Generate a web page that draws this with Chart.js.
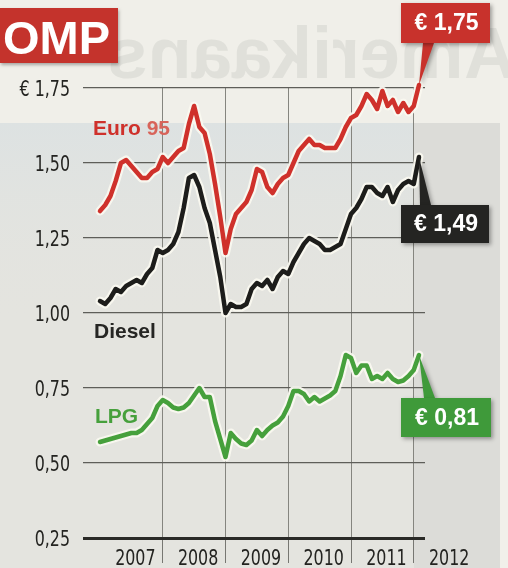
<!DOCTYPE html>
<html>
<head>
<meta charset="utf-8">
<script src="https://cdn.jsdelivr.net/npm/chart.js@4/dist/chart.umd.min.js"></script>
<style>
    html, body { margin: 0; padding: 0; background: #e9e9e4; overflow: hidden; }
    #wrap { position: relative; width: 508px; height: 568px; }
</style>
</head>
<body>
<div id="wrap"><canvas id="fuelChart" width="508" height="568"></canvas></div>
<script>
// Monthly prices (euro per litre), Jan 2007 - Feb 2012
const euro95 = [
    1.34, 1.36, 1.39, 1.44, 1.50, 1.51, 1.49, 1.47, 1.45, 1.45, 1.47, 1.48,
    1.52, 1.50, 1.52, 1.54, 1.55, 1.63, 1.69, 1.62, 1.60, 1.53, 1.43, 1.32,
    1.20, 1.28, 1.33, 1.35, 1.37, 1.41, 1.48, 1.47, 1.42, 1.40, 1.43, 1.45,
    1.46, 1.50, 1.54, 1.56, 1.58, 1.56, 1.56, 1.55, 1.55, 1.55, 1.58, 1.62,
    1.65, 1.66, 1.69, 1.73, 1.71, 1.68, 1.74, 1.69, 1.71, 1.67, 1.70, 1.67,
    1.69, 1.76
];
const diesel = [
    1.04, 1.03, 1.05, 1.08, 1.07, 1.09, 1.10, 1.11, 1.10, 1.13, 1.15, 1.21,
    1.20, 1.21, 1.23, 1.27, 1.35, 1.45, 1.46, 1.42, 1.35, 1.30, 1.21, 1.12,
    1.00, 1.03, 1.02, 1.02, 1.03, 1.08, 1.10, 1.09, 1.11, 1.08, 1.12, 1.14,
    1.13, 1.17, 1.20, 1.23, 1.25, 1.24, 1.23, 1.21, 1.21, 1.22, 1.23, 1.28,
    1.33, 1.35, 1.38, 1.42, 1.42, 1.40, 1.39, 1.42, 1.37, 1.41, 1.43, 1.44,
    1.43, 1.52
];
const lpg = [
    0.570, 0.575, 0.580, 0.585, 0.590, 0.595, 0.600, 0.600, 0.610, 0.630, 0.650, 0.690,
    0.710, 0.700, 0.685, 0.680, 0.685, 0.700, 0.725, 0.750, 0.720, 0.720, 0.640, 0.580,
    0.520, 0.600, 0.580, 0.565, 0.560, 0.575, 0.610, 0.590, 0.610, 0.625, 0.635, 0.655,
    0.690, 0.740, 0.740, 0.730, 0.705, 0.720, 0.705, 0.715, 0.725, 0.740, 0.790, 0.860,
    0.850, 0.800, 0.825, 0.825, 0.780, 0.790, 0.780, 0.800, 0.780, 0.770, 0.775, 0.790,
    0.810, 0.860
];

const seriesNames = ['Euro 95', 'Diesel', 'LPG'];
const endLabels = ['€ 1,75', '€ 1,49', '€ 0,81'];
const years = ['2007', '2008', '2009', '2010', '2011', '2012'];
const yTickValues = [0.25, 0.50, 0.75, 1.00, 1.25, 1.50, 1.75];
const yTickLabels = ['0,25', '0,50', '0,75', '1,00', '1,25', '1,50', '€ 1,75'];

const RED = '#cf312b';
const BLACK = '#1d1d1b';
const GREEN = '#46a03c';
const NARROW = "'DejaVu Sans Condensed', 'Liberation Sans Narrow', sans-serif";
const BOLD = "'Liberation Sans', Arial, sans-serif";
const SQUEEZE = 0.84; // the print face is narrower than anything installed

// x value = months since Jan 2007
const toPoints = arr => arr.map((v, i) => ({ x: i, y: v }));

function line(data, color, width, order) {
    return {
        data: toPoints(data),
        borderColor: color,
        borderWidth: width,
        pointRadius: 0,
        tension: 0,
        borderJoinStyle: 'round',
        borderCapStyle: 'round',
        clip: false,
        order: order
    };
}

const halo = 'rgba(250,248,240,0.92)';

// Paper background, header strip and the mirrored show-through headline
const paperPlugin = {
    id: 'paper',
    beforeDraw(chart) {
        const ctx = chart.ctx;
        ctx.save();
        ctx.fillStyle = '#e4e4df';
        ctx.fillRect(0, 0, 508, 568);
        ctx.fillStyle = '#f0efe9';
        ctx.fillRect(0, 0, 508, 123);
        const g = ctx.createLinearGradient(0, 123, 0, 330);
        g.addColorStop(0, '#dde2e2');
        g.addColorStop(1, 'rgba(228,228,223,0)');
        ctx.fillStyle = g;
        ctx.fillRect(0, 123, 420, 207);
        ctx.fillStyle = '#dcdcd8';
        ctx.fillRect(414, 123, 86, 445);
        ctx.fillStyle = '#f1f0ea';
        ctx.fillRect(500, 0, 8, 568);

        // mirrored headline bleeding through the paper
        ctx.save();
        ctx.translate(516, 0);
        ctx.scale(-1, 1);
        ctx.font = "bold 72px " + BOLD;
        ctx.fillStyle = 'rgba(150,155,148,0.17)';
        ctx.textBaseline = 'alphabetic';
        ctx.fillText('Amerikaans', 0, 78);
        ctx.restore();

        // header tab
        ctx.shadowColor = 'rgba(0,0,0,0.3)';
        ctx.shadowBlur = 3;
        ctx.shadowOffsetX = 1;
        ctx.shadowOffsetY = 2;
        ctx.fillStyle = '#c4332c';
        ctx.fillRect(0, 8, 118, 55);
        ctx.shadowColor = 'transparent';
        ctx.fillStyle = '#ffffff';
        ctx.font = "bold 47px " + BOLD;
        ctx.textAlign = 'right';
        ctx.fillText('OMP', 110, 54);
        ctx.restore();
    }
};

function squeezedText(ctx, text, x, y, align) {
    ctx.save();
    ctx.translate(x, y);
    ctx.scale(SQUEEZE, 1);
    ctx.textAlign = align;
    ctx.fillText(text, 0, 0);
    ctx.restore();
}

function callout(ctx, box, color, text, tip, fromTop) {
    ctx.save();
    ctx.shadowColor = 'rgba(0,0,0,0.35)';
    ctx.shadowBlur = 4;
    ctx.shadowOffsetX = 2;
    ctx.shadowOffsetY = 2;
    ctx.fillStyle = color;
    const baseY = fromTop ? box.y : box.y + box.h;
    ctx.beginPath();
    ctx.moveTo(box.px1, baseY);
    ctx.lineTo(box.px2, baseY);
    ctx.lineTo(tip.x, tip.y);
    ctx.closePath();
    ctx.fill();
    ctx.fillRect(box.x, box.y, box.w, box.h);
    ctx.shadowColor = 'transparent';
    ctx.fillStyle = '#ffffff';
    ctx.font = "bold 23px " + BOLD;
    ctx.textAlign = 'center';
    ctx.textBaseline = 'middle';
    ctx.fillText(text, box.x + box.w / 2 + 1, box.y + box.h / 2 + 1);
    ctx.restore();
}

const labelPlugin = {
    id: 'labels',
    afterDraw(chart) {
        const ctx = chart.ctx;
        const xs = chart.scales.x;
        const ys = chart.scales.y;
        ctx.save();

        ctx.font = "21px " + NARROW;
        ctx.fillStyle = '#232320';
        ctx.textBaseline = 'middle';
        // value labels on the left
        yTickValues.forEach((v, i) => {
            squeezedText(ctx, yTickLabels[i], 70, ys.getPixelForValue(v) + 3, 'right');
        });

        // year labels, centred between the year gridlines
        ctx.textBaseline = 'alphabetic';
        years.forEach((y, i) => {
            squeezedText(ctx, y, xs.getPixelForValue(i * 12 + 6) + 4, 565, 'center');
        });

        // series names
        ctx.textAlign = 'left';
        ctx.font = "bold 21px " + BOLD;
        ctx.fillStyle = RED;
        ctx.fillText('Euro ', 93, 135);
        const w = ctx.measureText('Euro ').width;
        ctx.fillStyle = '#d8645a';
        ctx.fillText(seriesNames[0].slice(5), 93 + w, 135);
        ctx.fillStyle = '#262624';
        ctx.fillText(seriesNames[1], 94, 338);
        ctx.fillStyle = GREEN;
        ctx.fillText(seriesNames[2], 95, 423);
        ctx.restore();

        // end-value callouts pointing at the last point of each series
        const tipOf = idx => {
            const pts = chart.getDatasetMeta(idx).data;
            const p = pts[pts.length - 1];
            return { x: p.x, y: p.y };
        };
        callout(ctx, { x: 401, y: 3, w: 89, h: 40, px1: 423, px2: 434 }, '#c8322c', endLabels[0], tipOf(3), false);
        callout(ctx, { x: 401, y: 205, w: 88, h: 38, px1: 420, px2: 431 }, '#242422', endLabels[1], tipOf(4), true);
        callout(ctx, { x: 401, y: 398, w: 90, h: 39, px1: 424, px2: 435 }, '#3f9a3a', endLabels[2], tipOf(5), true);
    }
};

new Chart(document.getElementById('fuelChart'), {
    type: 'line',
    data: {
        datasets: [
            line(euro95, halo, 9, 2),
            line(diesel, halo, 9, 2),
            line(lpg, halo, 9, 2),
            line(euro95, RED, 4.5, 1),
            line(diesel, BLACK, 4.5, 1),
            line(lpg, GREEN, 4.5, 1)
        ]
    },
    options: {
        responsive: false,
        devicePixelRatio: 1,
        animation: false,
        layout: { padding: { top: 88, right: 83, bottom: 0, left: 0 } },
        plugins: {
            legend: { display: false },
            tooltip: { enabled: false }
        },
        scales: {
            x: {
                type: 'linear',
                min: -3.25,
                max: 62.15,
                afterBuildTicks: s => { s.ticks = [12, 24, 36, 48, 60].map(v => ({ value: v })); },
                afterFit: s => { s.height = 30; },
                ticks: { display: false },
                border: { display: false },
                grid: {
                    color: '#85857f',
                    lineWidth: 1,
                    drawTicks: true,
                    tickLength: 25,
                    tickColor: '#777772'
                }
            },
            y: {
                min: 0.25,
                max: 1.75,
                afterBuildTicks: s => { s.ticks = yTickValues.map(v => ({ value: v })); },
                afterFit: s => { s.width = 83; },
                border: { display: false },
                ticks: { display: false },
                grid: {
                    drawTicks: false,
                    color: c => (c.tick && c.tick.value === 0.25) ? '#2a2a27' : '#5e5e59',
                    lineWidth: c => (c.tick && c.tick.value === 0.25) ? 3 : 1.2
                }
            }
        }
    },
    plugins: [paperPlugin, labelPlugin]
});
</script>
</body>
</html>
